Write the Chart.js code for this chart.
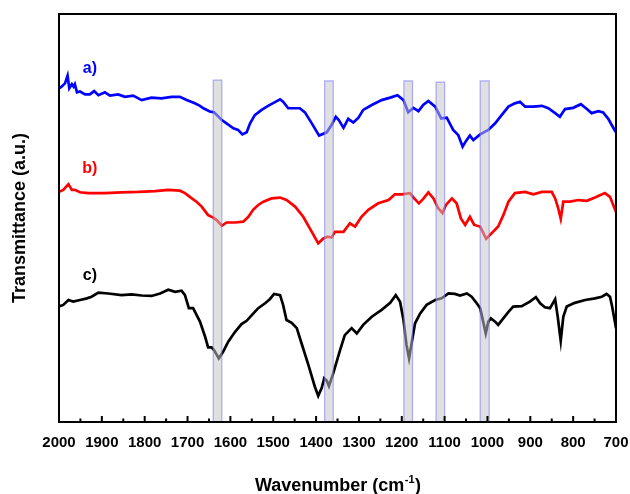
<!DOCTYPE html>
<html>
<head>
<meta charset="utf-8">
<script src="https://cdn.jsdelivr.net/npm/chart.js@4.4.1/dist/chart.umd.min.js"></script>
<style>
  html, body { margin: 0; padding: 0; background: #fff; }
</style>
</head>
<body>
<canvas id="ftir" width="630" height="494"></canvas>
<script>
// FTIR spectra a), b), c) – wavenumber (cm-1) vs transmittance (a.u.)
const waveA = [2000,1994,1986,1980,1976,1970,1966,1963,1958,1951,1939,1928,1918,1908,1893,1881,1862,1846,1827,1807,1784,1761,1737,1718,1702,1683,1671,1663,1648,1638,1620,1609,1593,1582,1572,1562,1554,1543,1527,1512,1496,1484,1477,1465,1453,1438,1426,1410,1393,1375,1364,1354,1347,1336,1325,1313,1301,1290,1270,1247,1227,1210,1196,1185,1173,1161,1150,1138,1122,1108,1095,1080,1068,1058,1050,1041,1033,1017,998,982,967,951,936,924,912,893,873,858,842,831,819,800,782,768,757,741,730,718,710,702,700];
const transA = [81.8,82.2,83.0,84.9,81.8,82.8,82.2,82.8,80.8,81.0,80.3,80.3,81.1,80.1,80.8,80.0,80.3,79.7,80.0,78.9,79.5,79.3,79.7,79.7,78.9,78.1,77.5,76.9,76.1,75.9,74.0,73.2,72.0,71.6,70.5,71.0,73.2,75.2,76.5,77.5,78.4,79.1,78.5,76.9,76.9,76.9,75.9,73.2,70.2,71.0,72.8,74.8,74.0,72.1,74.3,73.4,74.6,76.5,77.7,78.9,79.5,80.1,78.9,75.9,77.0,76.2,77.7,78.7,77.3,74.4,74.6,71.6,70.3,67.5,68.9,70.2,69.1,70.5,71.6,73.2,75.2,77.3,78.1,78.5,77.3,77.3,77.5,76.9,75.7,74.8,76.7,77.0,77.9,76.7,75.7,76.2,75.9,74.3,72.8,71.3,71.0];

const waveB = [2000,1990,1978,1970,1963,1951,1932,1893,1854,1815,1776,1745,1718,1706,1690,1679,1667,1652,1640,1632,1620,1609,1589,1570,1558,1547,1535,1523,1504,1484,1469,1449,1430,1410,1395,1383,1373,1364,1356,1336,1321,1309,1294,1278,1255,1231,1216,1200,1181,1171,1160,1150,1138,1126,1115,1105,1097,1083,1072,1062,1052,1041,1031,1017,1003,990,975,963,951,936,912,893,873,850,842,835,829,823,807,788,768,749,726,714,702,700];
const transB = [56.4,56.9,58.3,56.9,56.9,56.3,56.1,56.1,56.3,56.4,56.6,56.9,56.7,56.1,54.8,54.0,52.8,50.7,50.1,49.5,48.1,48.9,48.9,49.1,50.3,52.0,53.2,54.0,54.8,55.0,54.4,52.8,50.3,46.6,43.8,45.0,45.4,45.2,46.6,46.6,48.7,47.9,50.3,52.0,53.6,54.4,55.8,55.8,56.1,54.8,53.6,54.7,56.3,54.8,52.4,51.2,53.2,54.8,53.6,49.9,48.3,50.3,48.3,47.9,44.9,46.3,47.9,50.7,54.0,56.1,56.4,55.8,56.4,56.4,54.8,52.4,49.8,54.0,54.0,54.4,54.2,55.0,56.1,55.2,52.0,51.5];

const waveC = [2000,1990,1978,1967,1951,1935,1924,1908,1885,1854,1830,1807,1784,1764,1745,1729,1714,1706,1697,1687,1671,1659,1652,1644,1638,1627,1617,1605,1589,1574,1562,1550,1535,1519,1508,1498,1484,1477,1469,1457,1445,1434,1418,1403,1395,1387,1381,1375,1370,1360,1344,1333,1317,1305,1290,1270,1247,1227,1214,1204,1196,1189,1183,1177,1169,1157,1142,1122,1107,1091,1076,1064,1048,1037,1025,1017,1010,1004,998,992,982,975,963,951,940,920,901,887,877,866,854,842,836,829,823,815,796,772,749,733,722,714,709,702,700];
const transC = [28.3,28.7,29.9,29.5,29.9,30.3,30.7,31.7,31.5,31.1,31.3,31.0,30.9,31.5,32.4,31.9,32.2,31.1,27.9,27.9,24.6,20.9,18.3,18.3,17.6,15.6,17.2,19.7,22.1,24.0,24.8,26.2,27.9,29.1,30.1,31.4,31.1,28.7,25.0,24.3,23.0,19.3,14.0,8.7,6.4,8.3,10.7,10.1,8.8,11.9,17.6,21.3,23.0,21.7,23.8,25.8,27.5,29.2,31.1,29.5,25.0,18.9,15.6,19.3,24.2,26.6,28.7,29.9,30.3,31.5,31.4,31.0,31.5,30.7,29.1,27.9,24.6,21.7,24.6,25.4,24.6,23.8,25.4,27.0,28.3,28.4,29.5,30.6,29.1,28.1,27.9,30.1,25.8,19.9,25.8,28.3,29.2,29.9,30.3,30.7,31.4,30.7,28.3,24.2,23.0];

// highlighted absorption regions (cm-1) and their top edge
const bandHigh = [1640, 1380, 1195, 1120, 1017];
const bandLow  = [1620, 1360, 1175, 1100, 996];
const bandTop  = [83.8, 83.6, 83.6, 83.3, 83.6];

// curve tags
const tagText  = ['a)', 'b)', 'c)'];
const tagWave  = [1928, 1928, 1928];
const tagValue = [86.5, 62.0, 36.0];
const tagColor = ['#0000ff', '#ff0000', '#000000'];

const FONT = "'Liberation Sans', Arial, sans-serif";

const toPoints = (xs, ys) => xs.map((x, i) => ({ x, y: ys[i] }));

const line = (label, xs, ys, color) => ({
  label,
  data: toPoints(xs, ys),
  borderColor: color,
  borderWidth: 2.7,
  pointRadius: 0,
  tension: 0,
  fill: false
});

const decor = {
  id: 'decor',
  afterDatasetsDraw(chart) {
    const { ctx, scales: { x, y } } = chart;
    ctx.save();
    bandHigh.forEach((hi, i) => {
      const x1 = x.getPixelForValue(hi);
      const x2 = x.getPixelForValue(bandLow[i]);
      const yt = y.getPixelForValue(bandTop[i]);
      const yb = y.getPixelForValue(y.min);
      ctx.fillStyle = 'rgba(195,195,195,0.52)';
      ctx.fillRect(x1, yt, x2 - x1, yb - yt);
      ctx.strokeStyle = 'rgba(110,110,255,0.55)';
      ctx.lineWidth = 1.2;
      ctx.strokeRect(x1, yt, x2 - x1, yb - yt);
    });
    ctx.restore();
  },
  afterDraw(chart) {
    const { ctx, chartArea: a, scales: { x, y } } = chart;
    ctx.save();

    // frame
    ctx.strokeStyle = '#000';
    ctx.lineWidth = 2;
    ctx.strokeRect(a.left, a.top, a.right - a.left, a.bottom - a.top);

    // inward ticks, major every 100, minor every 50
    for (let v = x.max; v >= x.min; v -= 50) {
      const px = x.getPixelForValue(v);
      const len = v % 100 === 0 ? 6 : 3.5;
      ctx.beginPath();
      ctx.moveTo(px, a.bottom);
      ctx.lineTo(px, a.bottom - len);
      ctx.stroke();
    }

    // x title with superscript
    const main = 'Wavenumber (cm';
    const sup = '-1';
    const end = ')';
    ctx.fillStyle = '#000';
    ctx.textBaseline = 'alphabetic';
    ctx.font = `bold 18px ${FONT}`;
    const w1 = ctx.measureText(main).width;
    const w3 = ctx.measureText(end).width;
    ctx.font = `bold 11px ${FONT}`;
    const w2 = ctx.measureText(sup).width;
    let tx = (a.left + a.right) / 2 - (w1 + w2 + w3) / 2;
    const base = a.bottom + 69;
    ctx.textAlign = 'left';
    ctx.font = `bold 18px ${FONT}`;
    ctx.fillText(main, tx, base);
    tx += w1;
    ctx.font = `bold 11px ${FONT}`;
    ctx.fillText(sup, tx + 0.5, base - 8);
    tx += w2 + 1;
    ctx.font = `bold 18px ${FONT}`;
    ctx.fillText(end, tx, base);

    // curve tags
    ctx.font = `bold 16px ${FONT}`;
    ctx.textAlign = 'center';
    ctx.textBaseline = 'middle';
    tagText.forEach((t, i) => {
      ctx.fillStyle = tagColor[i];
      ctx.fillText(t, x.getPixelForValue(tagWave[i]), y.getPixelForValue(tagValue[i]));
    });
    ctx.restore();
  }
};

new Chart(document.getElementById('ftir'), {
  type: 'line',
  data: {
    datasets: [
      line('a)', waveA, transA, '#0000ff'),
      line('b)', waveB, transB, '#ff0000'),
      line('c)', waveC, transC, '#000000')
    ]
  },
  options: {
    responsive: false,
    animation: false,
    layout: { padding: { left: 0, top: 14, right: 14, bottom: 0 } },
    plugins: { legend: { display: false }, tooltip: { enabled: false } },
    scales: {
      x: {
        type: 'linear',
        reverse: true,
        min: 700,
        max: 2000,
        grid: { display: false, drawTicks: false },
        border: { display: false },
        ticks: {
          stepSize: 100,
          padding: 12,
          autoSkip: false,
          maxRotation: 0,
          minRotation: 0,
          color: '#000',
          font: { family: FONT, size: 15, weight: 'bold' },
          callback: (v) => String(v)
        },
        afterFit: (s) => { s.height = 72; s.paddingLeft = 0; s.paddingRight = 0; }
      },
      y: {
        min: 0,
        max: 100,
        grid: { display: false, drawTicks: false },
        border: { display: false },
        ticks: { display: false },
        title: {
          display: true,
          text: 'Transmittance (a.u.)',
          color: '#000',
          font: { family: FONT, size: 18, weight: 'bold' },
          padding: { top: 9, bottom: 0 }
        },
        afterFit: (s) => { s.width = 59; }
      }
    }
  },
  plugins: [decor]
});
</script>
</body>
</html>
